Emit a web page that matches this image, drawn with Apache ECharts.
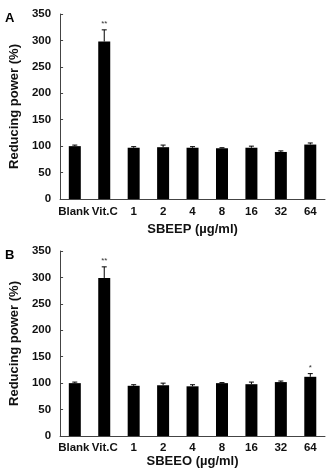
<!DOCTYPE html>
<html>
<head>
<meta charset="utf-8">
<script src="https://cdn.jsdelivr.net/npm/echarts@6/dist/echarts.min.js"></script>
<style>
    html, body { margin: 0; padding: 0; background: #fff; }
    #chart { width: 328px; height: 473px; }
</style>
</head>
<body>
<div id="chart"></div>
<script>
let categories = ['Blank', 'Vit.C', '1', '2', '4', '8', '16', '32', '64']
let yTicks = [0, 50, 100, 150, 200, 250, 300, 350]

// panel A: SBEEP
let valuesA = [100, 298, 97, 98, 97, 96, 97, 89, 103]
let errorsA = [2, 22, 2, 4, 2, 1, 3, 2, 3]
let starsA = ['', '**', '', '', '', '', '', '', '']

// panel B: SBEEO
let valuesB = [100, 299, 95, 96, 94, 100, 98, 102, 112]
let errorsB = [2, 21, 2, 4, 3, 1, 4, 2, 6]
let starsB = ['', '**', '', '', '', '', '', '', '*']

const font = 'Liberation Sans, Arial, sans-serif'
const axisColor = '#444'

// 'Blank' and 'Vit.C' sit close together, nudge them apart a little
let labelFormatter = v => v === 'Blank' ? '{l|' + v + '}' : v === 'Vit.C' ? '{r|' + v + '}' : v

let xAxis = (idx, name, labelMargin, nameGap) => ({
    type: 'category',
    gridIndex: idx,
    data: categories,
    name: name,
    nameLocation: 'middle',
    nameGap: nameGap,
    nameTextStyle: { fontFamily: font, fontSize: 13, fontWeight: 'bold', color: '#111' },
    axisLine: { lineStyle: { color: axisColor, width: 1 } },
    axisTick: { show: false },
    axisLabel: {
        fontFamily: font, fontSize: 11.5, fontWeight: 'bold', color: '#111', margin: labelMargin, interval: 0,
        formatter: labelFormatter,
        rich: {
            l: { fontFamily: font, fontSize: 11.5, fontWeight: 'bold', color: '#111', padding: [0, 2, 0, 0] },
            r: { fontFamily: font, fontSize: 11.5, fontWeight: 'bold', color: '#111', padding: [0, 0, 0, 1] }
        }
    }
})

let yAxis = idx => ({
    type: 'value',
    gridIndex: idx,
    min: yTicks[0],
    max: yTicks[yTicks.length - 1],
    interval: 50,
    name: 'Reducing power (%)',
    nameLocation: 'middle',
    nameGap: 29,
    nameTextStyle: { fontFamily: font, fontSize: 13, fontWeight: 'bold', color: '#111' },
    axisLine: { show: true, lineStyle: { color: axisColor, width: 1 } },
    axisTick: { show: true, inside: true, length: 3, lineStyle: { color: axisColor } },
    axisLabel: { fontFamily: font, fontSize: 11.5, fontWeight: 'bold', color: '#111', margin: 9 },
    splitLine: { show: false }
})

let errorSeries = (idx, values, errors, stars) => ({
    type: 'custom',
    xAxisIndex: idx,
    yAxisIndex: idx,
    data: values.map((v, i) => [i, v, errors[i]]),
    z: 3,
    renderItem(params, api) {
        let i = api.value(0)
        let v = api.value(1)
        let e = api.value(2)
        let base = api.coord([i, v])
        let top = api.coord([i, v + e])
        let children = [
            { type: 'line', shape: { x1: top[0], y1: base[1], x2: top[0], y2: top[1] }, style: { stroke: '#000', lineWidth: 1 } },
            { type: 'line', shape: { x1: top[0] - 2.5, y1: top[1], x2: top[0] + 2.5, y2: top[1] }, style: { stroke: '#000', lineWidth: 1 } }
        ]
        let s = stars[params.dataIndex]
        if (s) {
            children.push({
                type: 'text',
                style: { text: s, x: top[0], y: top[1] - 2, align: 'center', verticalAlign: 'bottom', fontFamily: font, fontSize: 8, fill: '#333' }
            })
        }
        return { type: 'group', children: children }
    }
})

let barSeries = (idx, values) => ({
    type: 'bar',
    xAxisIndex: idx,
    yAxisIndex: idx,
    data: values,
    barWidth: 12,
    itemStyle: { color: '#000' }
})

let chart = echarts.init(document.getElementById('chart'), null, { renderer: 'canvas' })
chart.setOption({
    animation: false,
    backgroundColor: '#fff',
    title: [
        { text: 'A', left: 0, top: 7, textStyle: { fontFamily: font, fontSize: 13, fontWeight: 'bold', color: '#000' } },
        { text: 'B', left: 0, top: 244, textStyle: { fontFamily: font, fontSize: 13, fontWeight: 'bold', color: '#000' } }
    ],
    grid: [
        { left: 49, right: 3, top: 14, height: 185 },
        { left: 49, right: 3, top: 251, height: 185 }
    ],
    xAxis: [xAxis(0, 'SBEEP (µg/ml)', 7, 24), xAxis(1, 'SBEEO (µg/ml)', 6, 19)],
    yAxis: [yAxis(0), yAxis(1)],
    series: [
        barSeries(0, valuesA),
        errorSeries(0, valuesA, errorsA, starsA),
        barSeries(1, valuesB),
        errorSeries(1, valuesB, errorsB, starsB)
    ]
})
</script>
</body>
</html>
